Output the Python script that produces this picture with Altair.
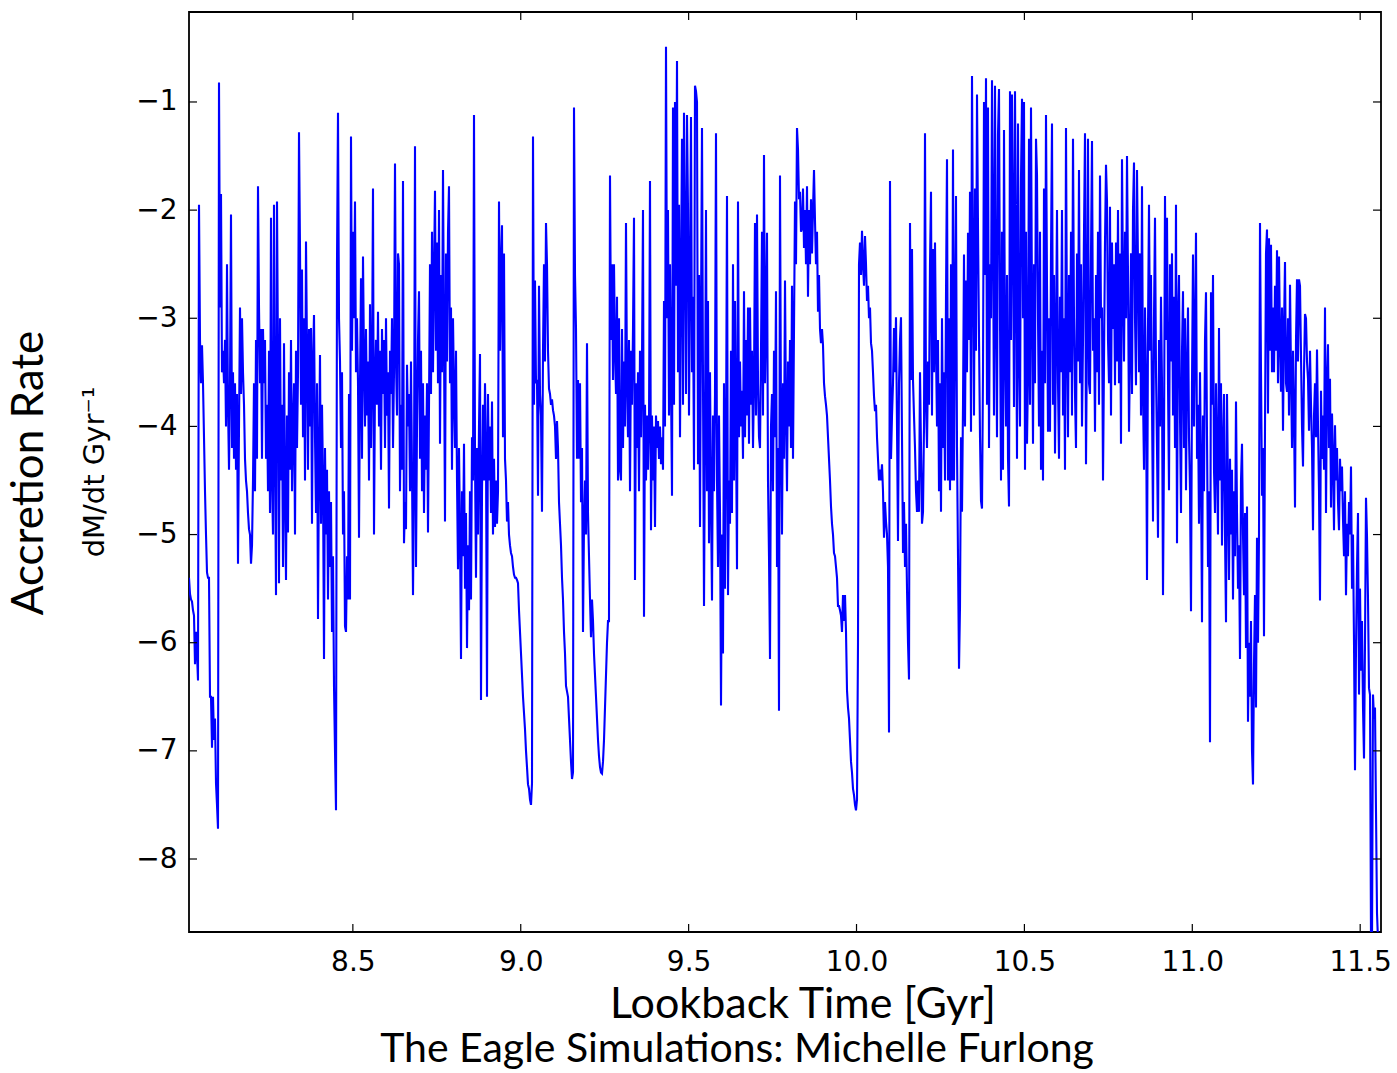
import altair as alt
import numpy as np
import pandas as pd

# Accretion rate, one value per screen column, left to right
seg_01 = [-5.4, -5.55, -5.6, -5.62, -5.7, -5.75, -6.2, -5.9, -6.1, -6.35,
          -1.95, -3.2, -3.6, -3.25, -3.6, -4.1, -4.6, -5.0, -5.35, -5.4,
          -5.4, -6.5, -6.5, -6.97, -6.5, -6.9, -6.7, -7.3, -7.5, -7.72,
          -0.82, -2.9, -1.85, -3.5, -3.3, -3.6, -3.2, -4.0, -2.5, -3.8,
          -4.4, -3.6, -2.04, -4.2, -3.5, -4.3, -3.6, -4.4, -3.7, -5.27,
          -4.0, -2.9, -3.7, -3.0, -3.5, -3.8, -4.3, -4.5, -4.6, -4.8,
          -4.95, -5.0, -5.27, -5.1, -4.5, -3.6, -4.6, -3.2, -4.3, -1.78,
          -2.9, -3.6, -3.1, -4.3, -3.1, -3.6, -3.2, -4.3, -3.8, -4.6,
          -3.3, -4.8, -2.07, -4.5, -5.0, -1.95, -4.2, -5.56, -1.92, -3.4,
          -5.45, -3.0, -4.5, -3.8, -5.3, -3.23, -4.6, -5.42, -3.9, -4.98]
seg_02 = [-3.5, -4.4, -3.2, -4.6, -4.0, -3.6, -5.0, -3.3, -4.2, -3.5,
          -1.28, -2.36, -3.8, -2.55, -4.1, -3.0, -4.5, -2.29, -3.3, -4.4,
          -3.1, -4.0, -3.09, -4.9, -3.4, -2.97, -4.1, -4.8, -3.6, -5.78,
          -4.3, -3.34, -4.9, -3.8, -4.5, -6.15, -4.2, -5.0, -4.4, -5.6,
          -4.6, -5.3, -4.7, -5.9, -5.2, -6.4, -7.0, -7.55, -2.5, -1.1,
          -3.0, -3.4, -4.2, -3.5, -5.0, -4.6, -5.85, -5.9, -5.2, -5.6,
          -3.7, -5.6, -1.32, -3.3, -2.2, -3.0, -1.92, -3.5, -3.0, -3.6,
          -5.03, -3.6, -2.63, -4.3, -2.43, -3.4, -4.0, -3.1, -3.9, -3.4,
          -4.5, -2.87, -4.2, -3.5, -1.8, -5.0, -3.6, -3.2, -3.8, -2.94,
          -4.0, -3.3, -4.4, -3.1, -3.7, -3.2, -4.2, -3.0, -3.9, -3.5]
seg_03 = [-4.76, -3.3, -3.7, -3.0, -4.2, -3.5, -1.57, -3.4, -3.9, -2.4,
          -2.5, -4.6, -3.8, -4.4, -1.73, -5.08, -4.7, -4.95, -3.43, -4.0,
          -3.7, -4.6, -3.4, -4.4, -5.56, -4.5, -1.41, -5.3, -4.0, -3.2,
          -2.75, -4.3, -3.3, -4.6, -3.6, -4.8, -3.9, -4.4, -3.6, -4.98,
          -3.8, -2.5, -3.7, -2.2, -3.5, -2.6, -1.82, -3.3, -2.3, -3.6,
          -2.0, -4.16, -2.6, -3.5, -1.63, -3.2, -4.88, -2.4, -3.4, -2.2,
          -1.78, -3.6, -2.9, -4.4, -3.0, -3.7, -4.2, -3.3, -4.5, -5.32,
          -4.2, -5.0, -6.15, -4.6, -5.2, -4.16, -5.5, -4.8, -6.05, -5.1,
          -5.7, -4.6, -5.6, -4.1, -4.5, -1.12, -4.3, -5.4, -4.2, -5.0,
          -4.0, -3.33, -6.53, -4.6, -3.8, -4.5, -3.6, -4.2, -6.5, -3.7]
seg_04 = [-4.5, -4.0, -4.8, -3.77, -5.0, -4.3, -4.93, -4.5, -4.9, -4.6,
          -1.92, -3.3, -2.5, -2.14, -4.1, -2.4, -4.3, -4.5, -4.88, -4.7,
          -5.0, -5.1, -5.17, -5.2, -5.3, -5.37, -5.4, -5.4, -5.42, -5.45,
          -5.7, -5.9, -6.1, -6.3, -6.5, -6.65, -6.8, -7.0, -7.15, -7.31,
          -7.35, -7.45, -7.5, -7.3, -1.32, -3.8, -2.65, -3.6, -3.57, -4.64,
          -2.7, -3.7, -3.9, -4.79, -3.3, -2.5, -3.4, -2.12, -2.5, -3.3,
          -3.65, -3.7, -3.8, -3.75, -3.85, -3.9, -4.0, -4.3, -3.95, -4.2,
          -4.7, -4.9, -5.1, -5.4, -5.6, -5.9, -6.1, -6.4, -6.45, -6.5,
          -6.7, -6.9, -7.1, -7.26, -7.2, -1.05, -2.6, -3.1, -4.3, -3.57,
          -4.3, -3.6, -4.7, -4.2, -5.9, -4.9, -4.5, -5.0, -3.23, -4.8]
seg_05 = [-5.2, -5.6, -5.95, -5.6, -5.8, -6.1, -6.3, -6.5, -6.7, -6.9,
          -7.05, -7.15, -7.2, -7.21, -7.1, -6.9, -6.6, -6.3, -6.0, -5.8,
          -5.8, -1.68, -3.2, -2.5, -3.57, -2.5, -3.3, -3.7, -2.8, -4.5,
          -3.0, -4.4, -4.5, -3.1, -4.2, -3.4, -4.0, -2.12, -3.6, -4.1,
          -3.2, -4.6, -3.3, -3.8, -3.1, -2.07, -5.42, -3.6, -4.2, -3.5,
          -4.6, -3.3, -4.1, -3.4, -2.0, -5.76, -3.8, -4.5, -3.9, -4.4,
          -4.0, -1.73, -4.96, -3.9, -4.5, -4.0, -4.93, -3.9, -4.2, -3.95,
          -4.3, -4.0, -4.35, -4.1, -4.4, -2.84, -4.0, -0.49, -3.0, -2.0,
          -3.9, -2.5, -3.6, -4.64, -1.05, -3.8, -1.0, -2.7, -0.62, -3.5,
          -1.95, -4.1, -2.6, -1.34, -3.8, -1.1, -2.3, -3.7, -1.12, -2.0]
seg_06 = [-3.9, -2.6, -1.14, -3.5, -2.8, -4.4, -0.85, -0.9, -1.0, -4.35,
          -2.6, -4.93, -3.0, -1.24, -3.6, -5.66, -4.0, -2.0, -4.6, -2.84,
          -5.08, -3.5, -4.7, -5.61, -3.9, -4.6, -3.7, -1.29, -4.5, -5.3,
          -3.9, -4.8, -6.58, -5.0, -6.1, -3.6, -5.5, -4.2, -1.87, -5.56,
          -4.5, -4.9, -3.3, -4.8, -2.5, -4.5, -2.84, -4.0, -5.32, -1.92,
          -4.1, -3.4, -4.0, -3.67, -4.3, -2.75, -4.1, -3.2, -3.9, -2.9,
          -4.16, -2.9, -3.8, -3.3, -4.2, -3.6, -2.12, -3.9, -2.04, -3.6,
          -4.1, -4.2, -3.3, -2.2, -3.9, -1.49, -3.6, -3.0, -2.21, -4.5,
          -5.2, -6.15, -4.0, -3.7, -4.6, -3.3, -4.1, -2.75, -5.3, -4.2,
          -6.63, -1.68, -4.0, -5.0, -3.6, -4.3, -2.65, -3.9, -4.6, -3.4]
seg_07 = [-4.0, -3.2, -4.2, -2.7, -4.3, -3.1, -1.92, -2.5, -1.24, -1.44,
          -1.9, -1.83, -2.2, -2.17, -1.8, -2.35, -2.0, -2.5, -1.78, -2.8,
          -2.0, -2.5, -1.9, -2.4, -2.0, -1.63, -2.1, -2.5, -2.2, -2.94,
          -2.6, -3.1, -3.23, -3.1, -3.25, -3.6, -3.72, -3.8, -3.9, -4.1,
          -4.3, -4.5, -4.74, -4.9, -5.0, -5.17, -5.2, -5.3, -5.4, -5.66,
          -5.66, -5.7, -5.75, -5.9, -5.56, -5.8, -5.56, -5.9, -6.44, -6.6,
          -6.7, -6.9, -7.1, -7.2, -7.35, -7.41, -7.5, -7.55, -7.45, -6.0,
          -2.5, -2.3, -2.6, -2.19, -2.5, -2.7, -2.24, -2.5, -2.84, -2.7,
          -3.0, -2.9, -3.23, -3.3, -3.5, -3.72, -3.86, -3.8, -4.1, -4.3,
          -4.5, -4.4, -4.5, -4.35, -4.6, -5.03, -4.7, -4.88, -5.0, -5.3]
seg_08 = [-6.83, -1.73, -4.3, -3.9, -3.6, -3.09, -3.5, -2.99, -4.0, -5.06,
          -3.6, -3.2, -2.99, -4.1, -5.17, -4.7, -5.3, -4.9, -5.5, -6.0,
          -6.34, -2.12, -3.57, -2.36, -3.57, -3.9, -4.2, -4.6, -4.79, -4.5,
          -4.79, -3.5, -4.2, -4.9, -4.79, -4.0, -1.29, -3.8, -4.2, -3.4,
          -3.8, -2.5, -1.83, -3.9, -2.36, -3.5, -2.3, -3.3, -4.0, -3.2,
          -4.6, -3.6, -4.79, -3.0, -4.2, -3.5, -4.5, -2.8, -1.53, -4.5,
          -3.0, -4.59, -2.5, -4.5, -1.44, -4.5, -3.0, -1.87, -4.2, -5.2,
          -6.24, -5.66, -4.1, -4.79, -3.8, -2.41, -4.0, -2.65, -3.5, -2.21,
          -3.2, -1.83, -4.05, -0.76, -2.5, -3.9, -1.8, -3.3, -0.93, -2.16,
          -3.18, -4.1, -4.69, -4.76, -3.5, -1.0, -2.6, -0.78, -3.8, -1.05]
seg_09 = [-4.2, -2.5, -3.0, -0.8, -2.2, -3.9, -0.85, -2.9, -4.1, -1.3,
          -0.88, -3.0, -4.5, -2.2, -4.4, -1.26, -3.3, -4.0, -2.6, -4.3,
          -4.74, -0.9, -3.2, -0.93, -2.1, -3.82, -0.9, -2.5, -4.3, -1.2,
          -3.3, -4.0, -1.7, -0.97, -3.0, -1.0, -4.4, -2.2, -4.16, -3.5,
          -1.34, -3.8, -1.05, -2.9, -4.16, -2.5, -3.6, -1.34, -1.68, -3.0,
          -4.0, -2.2, -4.4, -3.3, -4.5, -1.8, -3.6, -1.12, -2.7, -4.05,
          -3.0, -4.05, -2.4, -1.2, -3.8, -2.6, -4.25, -3.2, -2.0, -3.6,
          -4.3, -2.8, -3.5, -2.0, -3.9, -3.0, -4.4, -1.24, -3.2, -4.1,
          -2.6, -3.5, -2.2, -3.9, -1.34, -3.0, -3.7, -4.2, -2.4, -3.4,
          -1.63, -3.6, -2.5, -4.0, -3.2, -2.2, -1.29, -4.35, -3.1, -1.34]
seg_10 = [-3.6, -3.7, -2.4, -1.36, -3.3, -3.0, -4.05, -2.6, -3.5, -2.2,
          -3.8, -1.68, -3.0, -2.9, -4.5, -3.4, -2.3, -1.58, -1.92, -3.2,
          -3.6, -1.97, -3.9, -2.3, -3.1, -2.5, -3.62, -2.3, -3.4, -2.0,
          -3.6, -2.4, -4.16, -1.53, -2.7, -3.4, -2.2, -3.0, -1.5, -2.6,
          -4.05, -3.3, -2.4, -3.7, -2.0, -1.56, -3.0, -3.62, -1.63, -2.5,
          -3.5, -2.4, -3.9, -1.78, -3.7, -4.4, -2.9, -3.6, -5.42, -3.1,
          -1.95, -3.3, -2.6, -3.8, -4.88, -3.0, -2.07, -3.5, -4.2, -5.03,
          -3.2, -4.0, -2.8, -3.6, -5.56, -4.2, -1.87, -3.2, -2.07, -3.6,
          -4.59, -2.5, -3.4, -2.4, -3.9, -2.8, -4.2, -1.95, -5.08, -3.0,
          -2.6, -3.9, -4.8, -3.3, -2.75, -4.2, -3.0, -4.59, -3.5, -2.9]
seg_11 = [-4.1, -4.59, -5.71, -3.6, -2.41, -4.0, -3.2, -2.21, -4.3, -3.8,
          -4.9, -3.5, -4.4, -5.81, -3.9, -4.6, -3.2, -2.76, -4.1, -5.3,
          -4.6, -6.92, -2.76, -3.8, -2.6, -4.4, -4.8, -3.6, -4.3, -5.0,
          -3.09, -4.5, -3.6, -5.1, -4.2, -3.7, -5.0, -5.81, -3.7, -4.6,
          -5.42, -4.3, -5.0, -4.4, -5.6, -4.6, -5.2, -3.77, -4.8, -5.5,
          -5.1, -6.15, -4.5, -4.16, -5.0, -5.56, -4.8, -6.05, -4.74, -6.73,
          -6.0, -6.5, -5.8, -7.0, -7.31, -6.2, -5.56, -6.6, -5.03, -6.0,
          -5.0, -2.12, -3.5, -4.64, -4.2, -5.94, -4.0, -2.4, -2.18, -3.88,
          -2.26, -3.3, -2.32, -3.5, -2.9, -3.5, -2.7, -3.3, -2.37, -3.6,
          -2.43, -3.2, -3.68, -2.9, -4.04, -3.1, -2.48, -3.6, -3.68, -3.0]
seg_12 = [-3.9, -2.69, -3.5, -4.2, -3.3, -3.9, -4.75, -3.2, -2.64, -3.4,
          -2.64, -2.7, -3.35, -4.0, -4.37, -3.5, -2.96, -3.0, -3.4, -3.56,
          -4.04, -3.3, -3.8, -4.2, -4.96, -3.9, -3.6, -4.1, -3.29, -4.0,
          -4.6, -5.61, -3.67, -4.3, -3.9, -4.4, -2.9, -4.8, -3.6, -3.24,
          -4.2, -3.56, -4.75, -3.88, -4.3, -4.96, -3.99, -4.5, -4.2, -4.7,
          -4.96, -4.3, -4.6, -4.37, -4.86, -5.2, -4.6, -5.56, -4.9, -5.2,
          -4.7, -5.0, -4.37, -5.5, -5.0, -6.0, -7.18, -6.05, -5.3, -4.8,
          -6.48, -5.5, -6.26, -5.8, -6.6, -7.07, -6.0, -4.66, -5.02, -5.6,
          -6.42, -6.48, -8.75, -8.8, -6.48, -6.7, -6.6, -7.56, -8.5, -8.75,
          -8.8, -8.9, -8.9]

rate = (seg_01 + seg_02 + seg_03 + seg_04 + seg_05 + seg_06 +
        seg_07 + seg_08 + seg_09 + seg_10 + seg_11 + seg_12)

t_first, t_last = 8.012, 11.562          # lookback time span of the series [Gyr]
time = np.linspace(t_first, t_last, len(rate))

x_ticks = [8.5, 9.0, 9.5, 10.0, 10.5, 11.0, 11.5]
y_ticks = [-8, -7, -6, -5, -4, -3, -2, -1]
x_domain = [8.012, 11.562]
y_domain = [-8.675, -0.168]

df = pd.DataFrame({"t": time, "rate": rate, "i": np.arange(len(rate))})

W, H = 1192, 920
TICK = 8
xscale = alt.Scale(domain=x_domain, nice=False, zero=False)
yscale = alt.Scale(domain=y_domain, nice=False, zero=False)
xaxis = alt.Axis(values=x_ticks, format=".1f", title=None, labelPadding=16)
yaxis = alt.Axis(values=y_ticks, format="d", title=None, labelPadding=12)

line = alt.Chart(df).mark_line(color="#0000ff", strokeWidth=2.1, clip=True).encode(
    x=alt.X("t:Q", scale=xscale, axis=xaxis),
    y=alt.Y("rate:Q", scale=yscale, axis=yaxis),
    order="i:Q",
)

yt = pd.DataFrame({"v": y_ticks})
xt = pd.DataFrame({"v": x_ticks})
left_ticks = alt.Chart(yt).mark_rule(color="black", strokeWidth=1.2).encode(
    y=alt.Y("v:Q", scale=yscale, axis=yaxis), x=alt.value(0), x2=alt.value(TICK))
right_ticks = alt.Chart(yt).mark_rule(color="black", strokeWidth=1.2).encode(
    y=alt.Y("v:Q", scale=yscale, axis=yaxis), x=alt.value(W - TICK), x2=alt.value(W))
bottom_ticks = alt.Chart(xt).mark_rule(color="black", strokeWidth=1.2).encode(
    x=alt.X("v:Q", scale=xscale, axis=xaxis), y=alt.value(H - TICK), y2=alt.value(H))
top_ticks = alt.Chart(xt).mark_rule(color="black", strokeWidth=1.2).encode(
    x=alt.X("v:Q", scale=xscale, axis=xaxis), y=alt.value(0), y2=alt.value(TICK))

def label(txt, x, y, size, font, angle=0, baseline="middle"):
    return alt.Chart(pd.DataFrame({"s": [txt]})).mark_text(
        font=font, fontSize=size, color="black", angle=angle,
        align="center", baseline=baseline).encode(
        text="s:N", x=alt.value(x), y=alt.value(y))

title_y = label("Accretion Rate", -159, 461, 44, "Lato", 270)
unit_y = label("dM/dt Gyr\u207b\u00b9", -94, 460, 29, "DejaVu Sans", 270)
title_x = label("Lookback Time [Gyr]", 614, 1006, 43, "Lato", baseline="alphabetic")
credit = label("The Eagle Simulations: Michelle Furlong", 548, 1050, 41, "Lato",
               baseline="alphabetic")

chart = alt.layer(
    line, left_ticks, right_ticks, bottom_ticks, top_ticks,
    title_y, unit_y, title_x, credit,
).properties(
    width=W, height=H,
    autosize=alt.AutoSizeParams(type="none"),
    padding={"left": 189, "top": 12, "right": 16, "bottom": 141},
    background="white",
).configure_view(
    stroke="black", strokeWidth=1.8,
).configure_axis(
    domain=False, ticks=False, grid=False,
    labelFont="DejaVu Sans", labelFontSize=28, labelColor="black",
)

chart.save("out.html", embed_options={"renderer": "svg", "actions": False})
